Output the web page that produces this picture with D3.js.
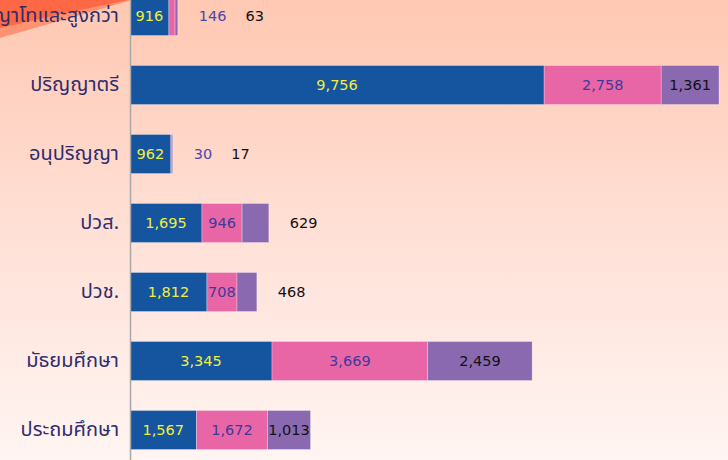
<!DOCTYPE html>
<html>
<head>
<meta charset="utf-8">
<script src="https://cdn.jsdelivr.net/npm/d3@7"></script>
<style>
  html, body { margin: 0; padding: 0; overflow: hidden; }
  .label { font-family: "DejaVu Sans", sans-serif; font-size: 14.5px; }
  .yAxis text { font-family: Tahoma, "Noto Sans Thai", "Noto Sans", sans-serif; font-size: 20px; fill: #2f2d6b; }
  .yAxis path { stroke: #a8a8a8; stroke-width: 1.5; }
</style>
</head>
<body>
<div class="container"></div>
<script>
const WIDTH = 728;
const HEIGHT = 460;
const AXIS_X = 130;

var categories = ["ปริญญาโทและสูงกว่า", "ปริญญาตรี", "อนุปริญญา", "ปวส.", "ปวช.", "มัธยมศึกษา", "ประถมศึกษา"];
var blueValues = [916, 9756, 962, 1695, 1812, 3345, 1567];
var pinkValues = [146, 2758, 30, 946, 708, 3669, 1672];
var purpleValues = [63, 1361, 17, 629, 468, 2459, 1013];

var series = [
    { values: blueValues, fill: "#1555a0", text: "#f2ee3a" },
    { values: pinkValues, fill: "#e866a6", text: "#3d3a9c" },
    { values: purpleValues, fill: "#8a69b0", text: "#111111" }
];

var fmt = d3.format(",");

var drawBackground = function(svg) {
    var grad = svg.append('defs').append('linearGradient')
        .attr('id', 'bg').attr('x1', 0).attr('y1', 0).attr('x2', 0).attr('y2', 1);
    grad.append('stop').attr('offset', '0%').attr('stop-color', '#ffc8b2');
    grad.append('stop').attr('offset', '50%').attr('stop-color', '#ffe0d6');
    grad.append('stop').attr('offset', '100%').attr('stop-color', '#fff5f2');
    svg.append('rect').attr('width', WIDTH).attr('height', HEIGHT).attr('fill', 'url(#bg)');
    // orange swoosh in the slide corner
    svg.append('path').attr('d', 'M0,0 L132,0 L0,38 Z').attr('fill', '#ff9272');
    svg.append('path').attr('d', 'M0,0 L128,0 Q60,14 0,28 Z').attr('fill', '#ff6844');
};

window.onload = function() {
    var svg = d3.select('.container').append('svg')
        .attr('width', WIDTH)
        .attr('height', HEIGHT);

    drawBackground(svg);

    var totals = categories.map((c, i) => d3.sum(series, (s) => s.values[i]));

    var xScale = d3.scaleLinear()
        .domain([0, d3.max(totals)])
        .range([AXIS_X, 719]);

    var yScale = d3.scaleBand()
        .domain(categories)
        .range([-18.5, 464.5])
        .paddingInner(0.435)
        .paddingOuter(0.2175);

    var stacked = d3.stack()
        .keys([0, 1, 2])
        .value((d, k) => series[k].values[d])(d3.range(categories.length));

    stacked.forEach(function(layer, k) {
        svg.append('g').selectAll('rect').data(layer).enter()
            .append('rect')
            .attr('x', (d) => xScale(d[0]))
            .attr('y', (d) => yScale(categories[d.data]))
            .attr('width', (d) => xScale(d[1]) - xScale(d[0]))
            .attr('height', yScale.bandwidth())
            .attr('fill', series[k].fill)
            .attr('stroke', 'rgba(255,255,255,0.35)')
            .attr('stroke-width', 0.8);
    });

    // labels: centred in a segment when it fits, else queued to the right of the bar
    categories.forEach(function(cat, i) {
        var cy = yScale(cat) + yScale.bandwidth() / 2;
        var nextX = xScale(totals[i]) + 21;
        stacked.forEach(function(layer, k) {
            var d = layer[i];
            var w = xScale(d[1]) - xScale(d[0]);
            var txt = svg.append('text')
                .classed('label', true)
                .attr('y', cy)
                .attr('dy', '0.36em')
                .attr('fill', series[k].text)
                .text(fmt(series[k].values[i]));
            if (w >= 28) {
                txt.attr('x', (xScale(d[0]) + xScale(d[1])) / 2).attr('text-anchor', 'middle');
            } else {
                txt.attr('x', nextX).attr('text-anchor', 'start');
                if (k === 1) txt.attr('fill', '#4a47a8');
                nextX += txt.node().getComputedTextLength() + 19;
            }
        });
    });

    svg.append('g')
        .attr('transform', `translate(${AXIS_X},0)`)
        .classed('yAxis', true)
        .call(d3.axisLeft(yScale).tickSize(0).tickPadding(11));
};
</script>
</body>
</html>
